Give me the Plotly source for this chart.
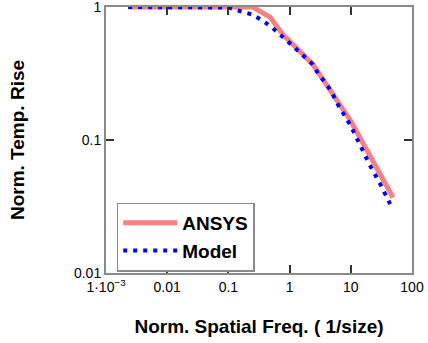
import plotly.graph_objects as go

# ANSYS reference curve
ansys_x = [0.0023, 0.25, 0.48, 0.78, 1.66, 2.4, 10, 49]
ansys_y = [1.0, 1.0, 0.84, 0.62, 0.44, 0.37, 0.139, 0.037]

# Model curve
model_x = [0.0023, 0.1, 0.17, 0.24, 0.35, 0.52, 0.76, 1.13, 1.66, 2.4, 3.0, 4.1,
           5.1, 6.1, 7.7, 9.8, 14, 20, 30, 44]
model_y = [1.0, 0.99, 0.92, 0.88, 0.80, 0.70, 0.60, 0.51, 0.44, 0.37, 0.31, 0.26,
           0.22, 0.186, 0.156, 0.13, 0.093, 0.066, 0.047, 0.033]

x_tickvals = [0.001, 0.01, 0.1, 1, 10, 100]
x_ticktext = ["1\u00b710<sup>\u22123</sup>", "0.01", "0.1", "1", "10", "100"]
y_tickvals = [0.01, 0.1, 1]
y_ticktext = ["0.01", "0.1", "1"]

FONT = "Liberation Sans, Arial, sans-serif"
FRAME = "#8a8a8a"

fig = go.Figure()
fig.add_trace(go.Scatter(x=ansys_x, y=ansys_y, mode="lines", name="ANSYS",
                         line=dict(color="#F88080", width=5)))
fig.add_trace(go.Scatter(x=model_x, y=model_y, mode="lines", name="Model",
                         line=dict(color="#0000FF", width=4, dash="4px,6px")))

fig.update_layout(
    width=428, height=343,
    margin=dict(l=106, r=16, t=7, b=70, autoexpand=False),
    paper_bgcolor="white", plot_bgcolor="white",
    font=dict(family=FONT, color="black", size=14),
    showlegend=True,
    legend=dict(x=0.035, y=0.265, xanchor="left", yanchor="top",
                bgcolor="white", bordercolor=FRAME, borderwidth=1.5,
                font=dict(family=FONT, size=19, weight="bold", color="black"),
                itemwidth=54, tracegroupgap=0),
)
fig.update_xaxes(
    type="log", range=[-3, 2], automargin=False,
    tickvals=x_tickvals, ticktext=x_ticktext,
    ticks="inside", ticklen=8, tickwidth=1.5, tickcolor="#333333",
    showline=True, linecolor=FRAME, linewidth=2, mirror="ticks",
    showgrid=False, zeroline=False, ticklabeloverflow="allow",
    tickfont=dict(family=FONT, size=14, color="black"),
    title=dict(text="Norm. Spatial Freq. ( 1/size)", standoff=26,
               font=dict(family=FONT, size=19, weight="bold", color="black")),
)
fig.update_yaxes(
    type="log", range=[-2, 0], automargin=False,
    tickvals=y_tickvals, ticktext=y_ticktext,
    ticks="inside", ticklen=8, tickwidth=1.5, tickcolor="#333333",
    showline=True, linecolor=FRAME, linewidth=2, mirror="ticks",
    showgrid=False, zeroline=False, ticklabeloverflow="allow",
    tickfont=dict(family=FONT, size=14, color="black"),
    title=dict(text="Norm. Temp. Rise", standoff=44,
               font=dict(family=FONT, size=19, weight="bold", color="black")),
)

fig.write_html("out.html")
